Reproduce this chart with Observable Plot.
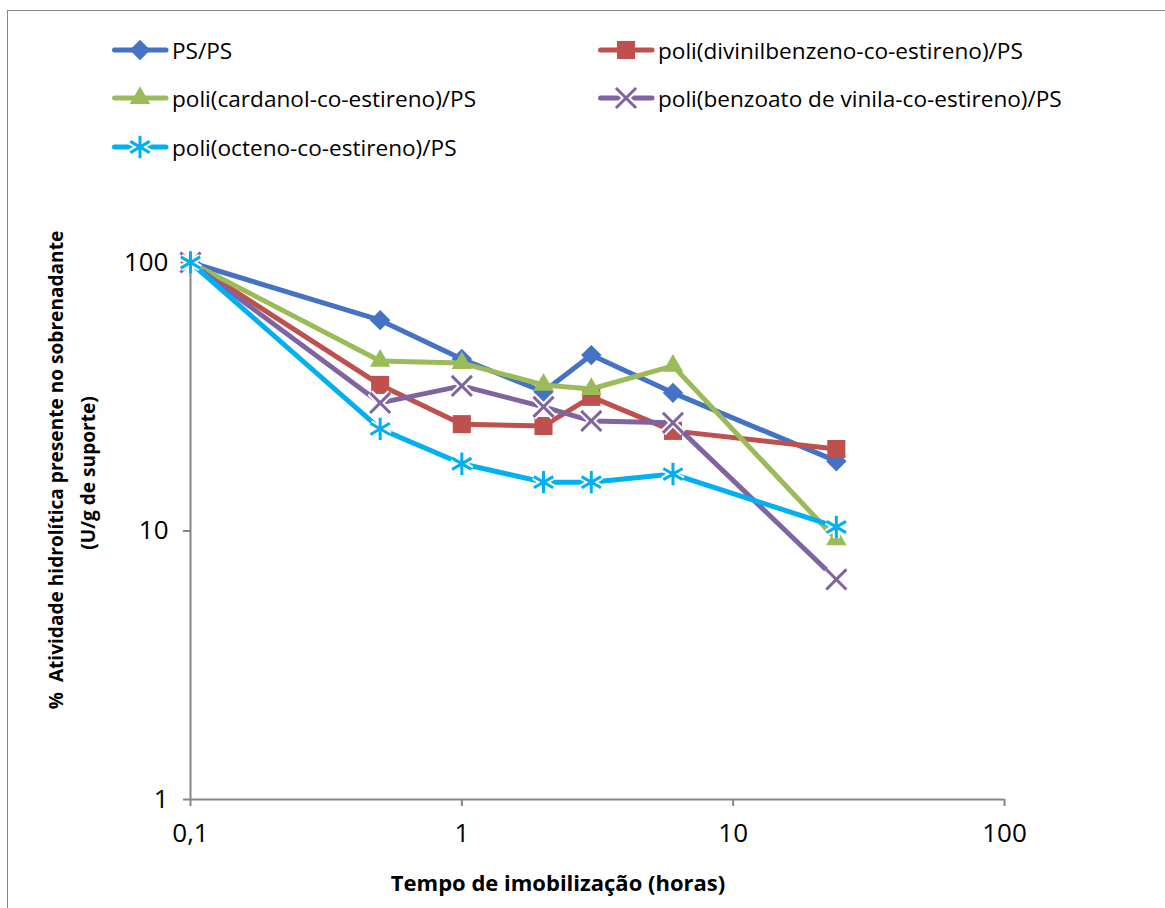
<!DOCTYPE html>
<html>
<head>
<meta charset="utf-8">
<script src="https://cdn.jsdelivr.net/npm/d3@7"></script>
<script src="https://cdn.jsdelivr.net/npm/@observablehq/plot@0.6"></script>
<style>
  html, body { margin: 0; padding: 0; background: #fff; }
  #wrap { position: relative; width: 1165px; height: 908px; overflow: hidden; font-family: "Open Sans", Lato, sans-serif; color: #000; }
  #frame { position: absolute; left: 7px; top: 10px; width: 1200px; height: 1000px; border: 1.5px solid #868686; box-sizing: border-box; }
  #chart { position: absolute; left: 0; top: 0; }
  .leg { position: absolute; display: flex; align-items: center; font-size: 22.6px; white-space: nowrap; }
  .leg svg { margin-right: 2px; }
  .ytitle { position: absolute; font-weight: bold; font-size: 19.1px; white-space: pre; transform: translate(-50%, -50%) rotate(-90deg); }
  .xtitle { position: absolute; font-weight: bold; font-size: 22px; white-space: nowrap; transform: translate(-50%, -50%); }
</style>
</head>
<body>
<div id="wrap">
  <div id="frame"></div>
  <div id="chart"></div>
</div>
<script>
// ---- data ----
const times = [0.1, 0.5, 1, 2, 3, 6, 24];
const seriesNames = [
  "PS/PS",
  "poli(divinilbenzeno-co-estireno)/PS",
  "poli(cardanol-co-estireno)/PS",
  "poli(benzoato de vinila-co-estireno)/PS",
  "poli(octeno-co-estireno)/PS"
];
const psPs        = [100, 61, 43.7, 33, 45.2, 32.7, 18.2];
const divinil     = [100, 35, 25, 24.6, 31.6, 23.6, 20.2];
const cardanol    = [100, 43, 42.2, 35, 33.8, 41.2, 9.3];
const benzoato    = [100, 30, 34.7, 29, 25.7, 25.3, 6.6];
const octeno      = [100, 24, 17.8, 15.2, 15.2, 16.3, 10.35];
const seriesValues = [psPs, divinil, cardanol, benzoato, octeno];
const seriesColors = ["#4472C4", "#C0504D", "#9BBB59", "#8064A2", "#00B0F0"];
const seriesSymbols = ["diamond2", "square", "triangle", "times", "asterisk"];
const xTicks = [0.1, 1, 10, 100];
const yTicks = [1, 10, 100];
const xTitle = "Tempo de imobilização (horas)";
const yTitle1 = "%  Atividade hidrolítica presente no sobrenadante";
const yTitle2 = "(U/g de suporte)";

// marker styling per symbol
const symStyle = {
  diamond2: {r: 9.2, filled: true},
  square:   {r: 10.2, filled: true},
  triangle: {r: 7.6, filled: true},
  times:    {r: 9.2, filled: false, sw: 3, halo: true},
  asterisk: {r: 10.6, filled: false, sw: 3, halo: true}
};

const rows = [];
seriesNames.forEach((name, i) => {
  seriesValues[i].forEach((v, j) => rows.push({series: name, t: times[j], v}));
});

const fmt = d => String(d).replace(".", ",");
const gray = "#868686";
const marks = [
  Plot.ruleX([0.1], {stroke: gray, strokeWidth: 2}),
  Plot.ruleY([1], {stroke: gray, strokeWidth: 2}),
  Plot.axisX({ticks: xTicks, tickFormat: fmt, tickSize: 7, tickPadding: 17, stroke: gray, strokeWidth: 2, fill: "#000", fontSize: 26, label: null}),
  Plot.axisY({ticks: yTicks, tickFormat: fmt, tickSize: 7, tickPadding: 15, stroke: gray, strokeWidth: 2, fill: "#000", fontSize: 26, label: null})
];
seriesNames.forEach((name, i) => {
  const d = rows.filter(r => r.series === name);
  const sym = seriesSymbols[i];
  const st = symStyle[sym];
  const col = seriesColors[i];
  marks.push(Plot.line(d, {x: "t", y: "v", stroke: col, strokeWidth: 5, strokeLinejoin: "round"}));
  if (st.filled) {
    marks.push(Plot.dot(d, {x: "t", y: "v", symbol: sym, r: st.r, fill: col, stroke: "none"}));
  } else {
    if (st.halo) marks.push(Plot.dot(d, {x: "t", y: "v", symbol: sym, r: st.r, stroke: "#fff", strokeWidth: st.sw + 4}));
    marks.push(Plot.dot(d, {x: "t", y: "v", symbol: sym, r: st.r, stroke: col, strokeWidth: st.sw}));
  }
});

const chart = Plot.plot({
  width: 1165, height: 908,
  marginLeft: 190, marginRight: 161, marginTop: 262, marginBottom: 109,
  style: {fontFamily: "'Open Sans', Lato, sans-serif", fontSize: "26px", color: "#000", background: "transparent", overflow: "visible"},
  x: {type: "log", domain: [0.1, 100]},
  y: {type: "log", domain: [1, 100]},
  marks
});
document.getElementById("chart").appendChild(chart);

// ---- legend ----
const wrap = document.getElementById("wrap");
const legPos = [[112, 50], [598, 50], [112, 98], [598, 98], [112, 147]];
const d3sym = {diamond2: d3.symbolDiamond2, square: d3.symbolSquare, triangle: d3.symbolTriangle, times: d3.symbolTimes, asterisk: d3.symbolAsterisk};
seriesNames.forEach((name, i) => {
  const sym = seriesSymbols[i], st = symStyle[sym], col = seriesColors[i];
  const div = document.createElement("div");
  div.className = "leg";
  div.style.left = legPos[i][0] + "px";
  div.style.top = (legPos[i][1] - 15) + "px";
  div.style.height = "30px";
  const path = d3.symbol(d3sym[sym], st.r * st.r * Math.PI)();
  let marker;
  if (st.filled) marker = `<path d="${path}" transform="translate(28,15)" fill="${col}"/>`;
  else marker = `<path d="${path}" transform="translate(28,15)" fill="none" stroke="#fff" stroke-width="${st.sw+4}"/><path d="${path}" transform="translate(28,15)" fill="none" stroke="${col}" stroke-width="${st.sw}"/>`;
  div.innerHTML = `<svg width="58" height="30"><line x1="2.5" y1="15" x2="54" y2="15" stroke="${col}" stroke-width="5" stroke-linecap="round"/>${marker}</svg><span>${name}</span>`;
  wrap.appendChild(div);
});

// ---- axis titles ----
function addText(cls, txt, x, y) {
  const el = document.createElement("div");
  el.className = cls; el.textContent = txt;
  el.style.left = x + "px"; el.style.top = y + "px";
  wrap.appendChild(el);
}
addText("ytitle", yTitle1, 56, 470);
addText("ytitle", yTitle2, 88, 473);
addText("xtitle", xTitle, 558, 882);
</script>
</body>
</html>
